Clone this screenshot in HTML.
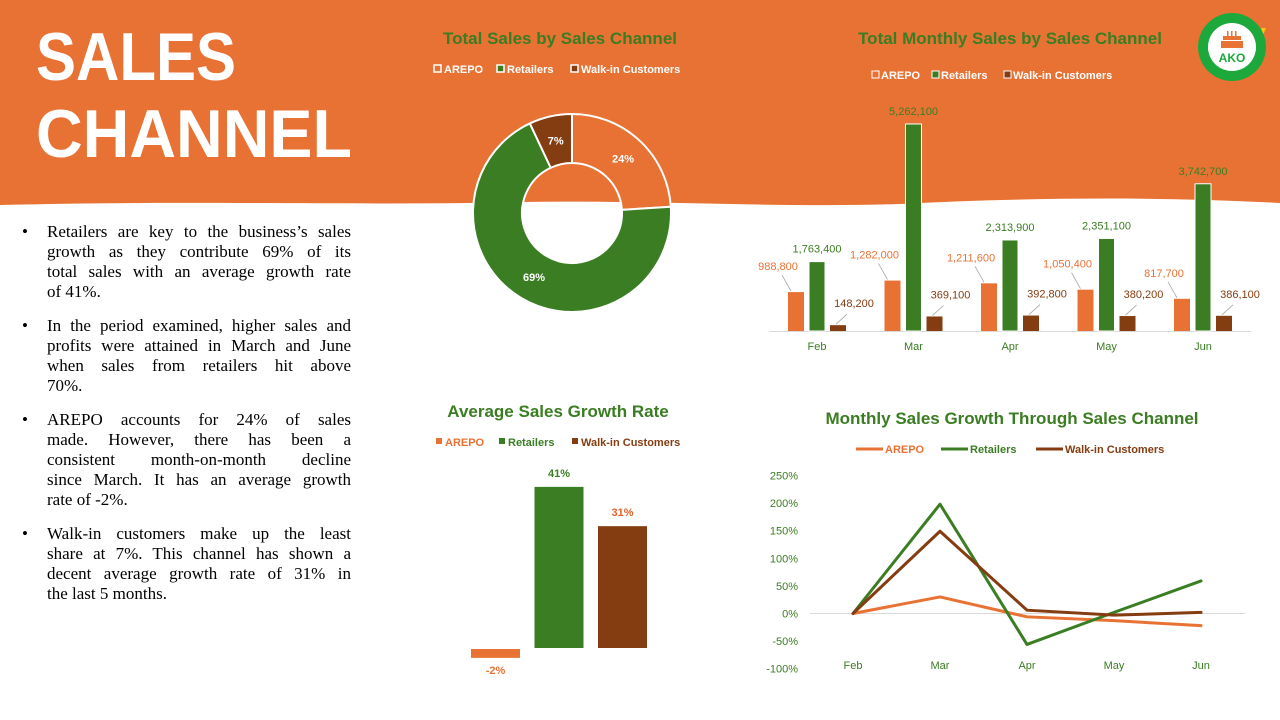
<!DOCTYPE html>
<html><head><meta charset="utf-8"><style>
html,body{margin:0;padding:0;width:1280px;height:720px;overflow:hidden;background:#fff;font-family:"Liberation Sans",sans-serif}
#svg{position:absolute;left:0;top:0}
#notes{position:absolute;left:22px;top:222px;width:329px;font-family:"Liberation Serif",serif;font-size:17px;line-height:20px;color:#000;margin:0;padding:0;list-style:none}
#notes li{position:relative;padding-left:25px;margin-bottom:14px}
#notes li:before{content:"•";position:absolute;left:0;top:0}
#notes span{display:block;white-space:nowrap;text-align:justify;text-align-last:justify}
#notes span.l{text-align-last:left}
</style></head><body>
<svg id="svg" width="1280" height="720" xmlns="http://www.w3.org/2000/svg">
<path d="M0,0 H1280 V203 C1150,196 1020,198 900,204 C780,208 650,200 520,202 C360,206 200,200 0,205 Z" fill="#E87234"/>
<text x="36" y="80" font-size="68" font-weight="bold" fill="#fff" textLength="200" lengthAdjust="spacingAndGlyphs">SALES</text>
<text x="36" y="157" font-size="68" font-weight="bold" fill="#fff" textLength="316" lengthAdjust="spacingAndGlyphs">CHANNEL</text>
<g>
<polygon points="1261,28 1266,28 1263,35" fill="#F5C518"/>
<circle cx="1232" cy="47" r="34" fill="#1DA83C"/>
<circle cx="1232" cy="47" r="24" fill="#fff"/>
<rect x="1223" y="36" width="18" height="4" fill="#E87234"/>
<rect x="1221" y="41" width="22" height="7" fill="#E87234"/>
<rect x="1227" y="31" width="1.5" height="5" fill="#E87234"/><rect x="1231" y="31" width="1.5" height="5" fill="#E87234"/><rect x="1235" y="31" width="1.5" height="5" fill="#E87234"/>
<text x="1232" y="62" font-size="12" font-weight="bold" fill="#1DA83C" text-anchor="middle">AKO</text>
</g>
<g id="donut"></g>
<g id="bars"></g>
<g id="avg"></g>
<g id="lines"></g>
</svg>
<ul id="notes">
<li><span>Retailers are key to the business’s sales</span><span>growth as they contribute 69% of its</span><span>total sales with an average growth rate</span><span class="l">of 41%.</span></li>
<li><span>In the period examined, higher sales and</span><span>profits were attained in March and June</span><span>when sales from retailers hit above</span><span class="l">70%.</span></li>
<li><span>AREPO accounts for 24% of sales</span><span>made. However, there has been a</span><span>consistent month-on-month decline</span><span>since March. It has an average growth</span><span class="l">rate of -2%.</span></li>
<li><span>Walk-in customers make up the least</span><span>share at 7%. This channel has shown a</span><span>decent average growth rate of 31% in</span><span class="l">the last 5 months.</span></li>
</ul>
<script>
const channels = ["AREPO","Retailers","Walk-in Customers"];
const colors = ["#E87234","#3A7D22","#843C11"];
const shares = [24,69,7];
const months = ["Feb","Mar","Apr","May","Jun"];
const arepoSales = [988800,1282000,1211600,1050400,817700];
const retailSales = [1763400,5262100,2313900,2351100,3742700];
const walkinSales = [148200,369100,392800,380200,386100];
const avgGrowth = [-2,41,31];
const arepoGrowth = [0,30,-6,-13,-22];
const retailGrowth = [0,198,-56,2,59];
const walkinGrowth = [0,149,6,-3,2];
const growthTicks = [250,200,150,100,50,0,-50,-100];

const NS="http://www.w3.org/2000/svg";
function el(tag,attrs,parent,txt){const e=document.createElementNS(NS,tag);for(const k in attrs)e.setAttribute(k,attrs[k]);if(txt!==undefined)e.textContent=txt;parent.appendChild(e);return e;}
const fmt=v=>v.toLocaleString("en-US");
const G="#3A7D22";

// ---------- Donut ----------
(function(){
 const g=document.getElementById("donut");
 let t=el("text",{x:560,y:44,"font-size":17,"font-weight":"bold",fill:G,"text-anchor":"middle"},g,"Total Sales by Sales Channel");
 
 
 const lx=[434,497,571];
 channels.forEach((c,i)=>{
  const r=el("rect",{x:lx[i],y:65,width:7,height:7,fill:colors[i],stroke:"#fff","stroke-width":1.5},g);
  
  
  const tx=el("text",{x:lx[i]+10,y:73,"font-size":11,"font-weight":"bold",fill:"#fff"},g,c);
  
  
 });
 const cx=572,cy=213,R=99,r0=50;
 const tot=shares.reduce((a,b)=>a+b,0);
 let a0=-Math.PI/2;
 shares.forEach((s,i)=>{
  const a1=a0+s/tot*2*Math.PI;
  const large=(a1-a0)>Math.PI?1:0;
  const p=(a,rr)=>[cx+rr*Math.cos(a),cy+rr*Math.sin(a)];
  const [x0,y0]=p(a0,R),[x1,y1]=p(a1,R),[x2,y2]=p(a1,r0),[x3,y3]=p(a0,r0);
  const path=el("path",{d:`M${x0},${y0} A${R},${R} 0 ${large} 1 ${x1},${y1} L${x2},${y2} A${r0},${r0} 0 ${large} 0 ${x3},${y3} Z`,fill:colors[i],stroke:"#fff","stroke-width":2},g);
  
  
  const am=(a0+a1)/2,[lx2,ly2]=p(am,(R+r0)/2);
  const lb=el("text",{x:lx2,y:ly2+4,"font-size":11,"font-weight":"bold",fill:"#fff","text-anchor":"middle"},g,s+"%");
  
  
  a0=a1;
 });
})();

// ---------- Monthly bars ----------
(function(){
 const g=document.getElementById("bars");
 let t=el("text",{x:1010,y:44,"font-size":17,"font-weight":"bold",fill:G,"text-anchor":"middle"},g,"Total Monthly Sales by Sales Channel");
 
 
 const lx=[872,932,1004];
 channels.forEach((c,i)=>{
  const r=el("rect",{x:lx[i],y:71,width:7,height:7,fill:colors[i],stroke:"#fff","stroke-width":1},g);
  
  
  const tx=el("text",{x:lx[i]+9,y:79,"font-size":11,"font-weight":"bold",fill:"#fff"},g,c);
  
  
 });
 const base=331,yMax=5300000,h=208.5;
 const y=v=>base-v/yMax*h;
 const x0=817,step=96.5;
 const xc=i=>x0+i*step;
 const ax=el("line",{x1:769,x2:1251,y1:base+0.5,y2:base+0.5,stroke:"#d9d9d9","stroke-width":1},g);
 
 
 const series=[arepoSales,retailSales,walkinSales];
 months.forEach((m,i)=>{
  const c=xc(i);
  series.forEach((s,k)=>{
   const bx=c-29+k*21;
   const b=el("rect",{x:bx,y:y(s[i]),width:16,height:base-y(s[i]),fill:colors[k],stroke:k===1?"#fff":"none","stroke-width":k===1?1:0},g);
   
   
   let lx2,ly2,anchor="middle";
   if(k===1){lx2=bx+8;ly2=y(s[i])-9;}
   else if(k===0){lx2=bx-10;ly2=y(s[i])-22;
     const ln=el("line",{x1:bx+3,y1:y(s[i])-1,x2:bx-6,y2:y(s[i])-17,stroke:"#a6a6a6","stroke-width":0.8},g);
     
     }
   else {lx2=bx+24;ly2=y(s[i])-18;
     const ln=el("line",{x1:bx+6,y1:y(s[i])-1,x2:bx+17,y2:y(s[i])-11,stroke:"#a6a6a6","stroke-width":0.8},g);
     
     }
   const lb=el("text",{x:lx2,y:ly2,"font-size":11,fill:colors[k],"text-anchor":anchor},g,fmt(s[i]));
   
   
  });
  const ml=el("text",{x:c,y:350,"font-size":11,fill:G,"text-anchor":"middle"},g,m);
  
  
 });
})();

// ---------- Average growth ----------
(function(){
 const g=document.getElementById("avg");
 let t=el("text",{x:558,y:417,"font-size":17,"font-weight":"bold",fill:G,"text-anchor":"middle"},g,"Average Sales Growth Rate");
 
 
 const lx=[436,499,572];
 channels.forEach((c,i)=>{
  const r=el("rect",{x:lx[i],y:438,width:6,height:6,fill:colors[i]},g);
  
  
  const tx=el("text",{x:lx[i]+9,y:446,"font-size":11,"font-weight":"bold",fill:colors[i]},g,c);
  
  
 });
 const base=648,k=3.93;
 const y=v=>base-v*k;
 const lc=["#E87234","#3A7D22","#E0622A"];
 avgGrowth.forEach((v,i)=>{
  const bx=471+i*63.5;
  const top=Math.min(y(v),base),hh=Math.max(Math.abs(v*k),0);
  const b=el("rect",{x:bx,y:v<0?base+1:top,width:49,height:v<0?hh+1:hh,fill:colors[i]},g);
  
  
  const ly=v<0?base+hh+18:top-10;
  const lb=el("text",{x:bx+24.5,y:ly,"font-size":11,"font-weight":"bold",fill:lc[i],"text-anchor":"middle"},g,v+"%");
  
  
 });
})();

// ---------- Growth lines ----------
(function(){
 const g=document.getElementById("lines");
 let t=el("text",{x:1012,y:424,"font-size":17,"font-weight":"bold",fill:G,"text-anchor":"middle"},g,"Monthly Sales Growth Through Sales Channel");
 
 
 const lx=[856,941,1036];
 channels.forEach((c,i)=>{
  const l=el("line",{x1:lx[i],x2:lx[i]+27,y1:449,y2:449,stroke:colors[i],"stroke-width":3},g);
  
  
  const tx=el("text",{x:lx[i]+29,y:453,"font-size":11,"font-weight":"bold",fill:colors[i]},g,c);
  
  
 });
 const zero=613.5,pp=55.2/100;
 const y=v=>zero-v*pp;
 const x=i=>853+i*87;
 growthTicks.forEach(v=>{
  const tl=el("text",{x:798,y:y(v)+4,"font-size":11,fill:G,"text-anchor":"end"},g,v+"%");
  
  
 });
 const gl=el("line",{x1:810,x2:1245,y1:y(0),y2:y(0),stroke:"#d9d9d9","stroke-width":1},g);
 
 
 months.forEach((m,i)=>{
  const ml=el("text",{x:x(i),y:669,"font-size":11,fill:G,"text-anchor":"middle"},g,m);
  
  
 });
 [arepoGrowth,retailGrowth,walkinGrowth].forEach((s,k)=>{
  const pl=el("polyline",{points:s.map((v,i)=>x(i)+","+y(v)).join(" "),fill:"none",stroke:colors[k],"stroke-width":3,"stroke-linejoin":"round","stroke-linecap":"round"},g);
  
  
 });
})();
</script>
</body></html>
